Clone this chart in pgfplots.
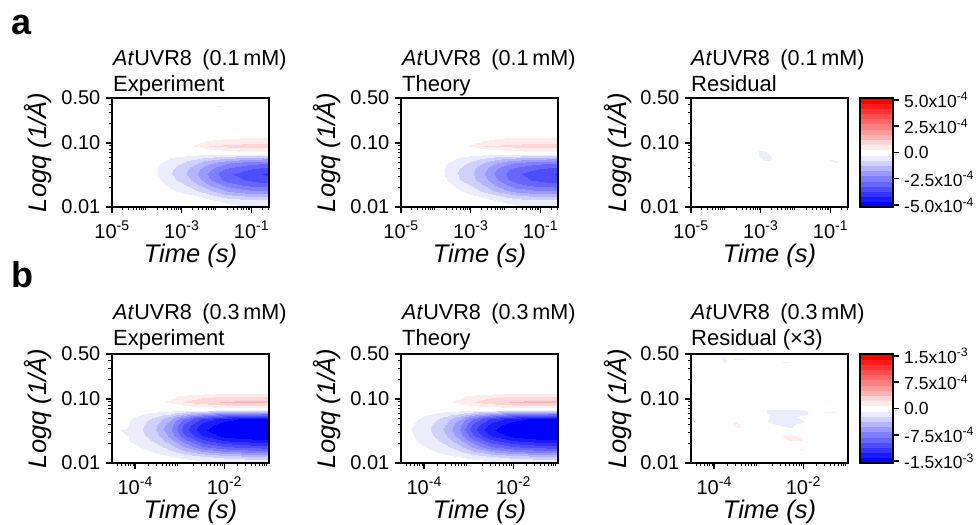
\documentclass[border=0pt]{standalone}
\usepackage{pgfplots}
\pgfplotsset{compat=1.18}
\usepackage{fontspec}
\setmainfont{Liberation Sans}
\newcommand\fs[1]{\fontsize{#1}{#1}\selectfont}
\pgfplotsset{
  colormap={bwr}{rgb255=(0,0,255) rgb255=(26,26,255) rgb255=(51,51,255) rgb255=(77,77,255) rgb255=(102,102,255) rgb255=(128,128,255) rgb255=(153,153,255) rgb255=(180,180,255) rgb255=(208,208,255) rgb255=(236,236,255) rgb255=(255,255,255) rgb255=(255,236,236) rgb255=(255,214,214) rgb255=(255,180,180) rgb255=(255,153,153) rgb255=(255,128,128) rgb255=(255,102,102) rgb255=(255,77,77) rgb255=(255,51,51) rgb255=(255,26,26) rgb255=(255,0,0)},
  hm/.style={surf,shader=interp,mesh/cols=#1,point meta=\thisrowno{2},forget plot},
  panel/.style={
    scale only axis,width=157pt,height=109pt,anchor=south west,
    ymin=0.01,ymax=0.5,
    colormap name=bwr,colormap access=piecewise constant,
    axis on top,axis line style={line width=1.8pt},
    tick align=outside,xtick pos=bottom,ytick pos=left,
    major tick length=6pt,minor tick length=3.5pt,
    tick style={black,line width=1.4pt},
    minor tick style={line width=1pt},
    ytick={0.01,0.1,0.5},yticklabels={0.01,0.10,0.50},
    minor ytick={0.02,0.03,0.04,0.05,0.06,0.07,0.08,0.09,0.2,0.3,0.4},
    minor xtick={2e-5,3e-5,4e-5,5e-5,6e-5,7e-5,8e-5,9e-5,2e-4,3e-4,4e-4,5e-4,6e-4,7e-4,8e-4,9e-4,2e-3,3e-3,4e-3,5e-3,6e-3,7e-3,8e-3,9e-3,2e-2,3e-2,4e-2,5e-2,6e-2,7e-2,8e-2,9e-2,0.2,0.3},
    tick label style={font=\fs{20}},
    yticklabel style={inner sep=0pt,xshift=-5.5pt},
    xticklabel style={inner sep=0pt,yshift=-8pt},
    xlabel={\itshape Time (s)},
    ylabel={\itshape Logq (1/Å)},
    every axis x label/.style={at={(axis description cs:0.5,0)},anchor=base,inner sep=0pt,yshift=-55.5pt,font=\fs{25.5}},
    every axis y label/.style={at={(axis description cs:0,0.5)},rotate=90,anchor=base,inner sep=0pt,yshift=65pt,font=\fs{25.5}},
  },
  pa/.style={panel,xmin=1e-5,xmax=0.316,xtick={1e-5,1e-3,1e-1},xticklabels={10\textsuperscript{-5},10\textsuperscript{-3},10\textsuperscript{-1}},point meta min=-5,point meta max=5},
  pb/.style={panel,xmin=3.02e-5,xmax=0.1,xtick={1e-4,1e-2},xticklabels={10\textsuperscript{-4},10\textsuperscript{-2}},point meta min=-15,point meta max=15},
  cbar/.style={
    scale only axis,width=33pt,height=109pt,anchor=south west,
    xmin=0,xmax=1,xtick=\empty,
    colormap name=bwr,colormap access=piecewise constant,
    axis on top,axis line style={line width=1.8pt},
    tick align=outside,ytick pos=right,yticklabel pos=right,
    major tick length=6pt,tick style={black,line width=1.4pt},
    yticklabel style={font=\fs{17.5},anchor=west,inner sep=0pt,xshift=5pt},
  },
}
\newcommand\ttl[4]{%
  \node[anchor=base west,inner sep=0pt,font=\fs{21.6}] at (#1pt,#2pt) {\textit{At}UVR8\hspace{10.5pt}(#3\,mM)};
  \node[anchor=base west,inner sep=0pt,font=\fs{22}] at (#1pt,#2pt-26pt) {#4};}
\begin{document}
\begin{tikzpicture}[x=1pt,y=1pt]
\path[use as bounding box] (0pt,0pt) rectangle (978pt,525pt);
\node[anchor=base west,inner sep=0pt,font=\fs{36}\bfseries] at (11pt,490pt) {a};
\node[anchor=base west,inner sep=0pt,font=\fs{36}\bfseries] at (11pt,237pt) {b};
% ---------- a, experiment
\begin{axis}[xmode=log,ymode=log,pa,at={(112pt,318pt)}]
\addplot[hm=10] table {
1.58e-4 .01 0
2.5e-4 .01 0
5e-4 .01 0
1e-3 .01 0
2.5e-3 .01 0
6.3e-3 .01 0
.02 .01 -.1
.063 .01 -.2
.158 .01 -.2
.32 .01 -.2
1.58e-4 .0122 0
2.5e-4 .0122 0
5e-4 .0122 0
1e-3 .0122 0
2.5e-3 .0122 0
6.3e-3 .0122 -.1
.02 .0122 -.35
.063 .0122 -.5
.158 .0122 -.55
.32 .0122 -.55
1.58e-4 .0148 0
2.5e-4 .0148 0
5e-4 .0148 0
1e-3 .0148 -.05
2.5e-3 .0148 -.2
6.3e-3 .0148 -.55
.02 .0148 -1
.063 .0148 -1.2
.158 .0148 -1.3
.32 .0148 -1.3
1.58e-4 .018 0
2.5e-4 .018 0
5e-4 .018 -.15
1e-3 .018 -.35
2.5e-3 .018 -.65
6.3e-3 .018 -1.1
.02 .018 -1.7
.063 .018 -2
.158 .018 -2.1
.32 .018 -2.1
1.58e-4 .0219 0
2.5e-4 .0219 -.1
5e-4 .0219 -.4
1e-3 .0219 -.6
2.5e-3 .0219 -1.1
6.3e-3 .0219 -1.7
.02 .0219 -2.3
.063 .0219 -2.7
.158 .0219 -2.8
.32 .0219 -2.9
1.58e-4 .0266 0
2.5e-4 .0266 -.25
5e-4 .0266 -.6
1e-3 .0266 -.85
2.5e-3 .0266 -1.4
6.3e-3 .0266 -2.1
.02 .0266 -2.8
.063 .0266 -3.1
.158 .0266 -3.3
.32 .0266 -3.4
1.58e-4 .0323 -.1
2.5e-4 .0323 -.4
5e-4 .0323 -.7
1e-3 .0323 -1
2.5e-3 .0323 -1.6
6.3e-3 .0323 -2.3
.02 .0323 -3
.063 .0323 -3.3
.158 .0323 -3.5
.32 .0323 -3.7
1.58e-4 .0393 -.1
2.5e-4 .0393 -.4
5e-4 .0393 -.65
1e-3 .0393 -.95
2.5e-3 .0393 -1.5
6.3e-3 .0393 -2.1
.02 .0393 -2.7
.063 .0393 -3
.158 .0393 -3.2
.32 .0393 -3.3
1.58e-4 .0478 0
2.5e-4 .0478 -.25
5e-4 .0478 -.5
1e-3 .0478 -.7
2.5e-3 .0478 -1.1
6.3e-3 .0478 -1.6
.02 .0478 -2.1
.063 .0478 -2.4
.158 .0478 -2.5
.32 .0478 -2.6
1.58e-4 .0581 0
2.5e-4 .0581 0
5e-4 .0581 -.25
1e-3 .0581 -.4
2.5e-3 .0581 -.6
6.3e-3 .0581 -.85
.02 .0581 -1.1
.063 .0581 -1.3
.158 .0581 -1.4
.32 .0581 -1.5
1.58e-4 .0681 0
2.5e-4 .0681 0
5e-4 .0681 0
1e-3 .0681 0
2.5e-3 .0681 -.1
6.3e-3 .0681 -.1
.02 .0681 -.15
.063 .0681 -.15
.158 .0681 -.15
.32 .0681 -.15
1.58e-4 .0765 0
2.5e-4 .0765 0
5e-4 .0765 0
1e-3 .0765 0
2.5e-3 .0765 0
6.3e-3 .0765 .1
.02 .0765 .3
.063 .0765 .45
.158 .0765 .5
.32 .0765 .5
1.58e-4 .0894 0
2.5e-4 .0894 0
5e-4 .0894 0
1e-3 .0894 0
2.5e-3 .0894 .3
6.3e-3 .0894 .75
.02 .0894 .85
.063 .0894 .9
.158 .0894 .9
.32 .0894 .9
1.58e-4 .1046 0
2.5e-4 .1046 0
5e-4 .1046 0
1e-3 .1046 0
2.5e-3 .1046 .1
6.3e-3 .1046 .35
.02 .1046 .5
.063 .1046 .55
.158 .1046 .55
.32 .1046 .55
1.58e-4 .1222 0
2.5e-4 .1222 0
5e-4 .1222 0
1e-3 .1222 0
2.5e-3 .1222 0
6.3e-3 .1222 .02
.02 .1222 .1
.063 .1222 .2
.158 .1222 .2
.32 .1222 .2
};
\addplot[hm=3] table {
.0072 .36 0
.0115 .36 0
.0182 .36 0
.0072 .38 0
.0115 .38 -.4
.0182 .38 0
.0072 .40 0
.0115 .40 0
.0182 .40 0
};
\end{axis}
% ---------- a, theory
\begin{axis}[xmode=log,ymode=log,pa,at={(401pt,318pt)}]
\addplot[hm=10] table {
1.58e-4 .01 0
2.5e-4 .01 0
5e-4 .01 0
1e-3 .01 0
2.5e-3 .01 0
6.3e-3 .01 -.05
.02 .01 -.15
.063 .01 -.2
.158 .01 -.2
.32 .01 -.2
1.58e-4 .0122 0
2.5e-4 .0122 0
5e-4 .0122 0
1e-3 .0122 0
2.5e-3 .0122 -.1
6.3e-3 .0122 -.25
.02 .0122 -.45
.063 .0122 -.55
.158 .0122 -.55
.32 .0122 -.55
1.58e-4 .0148 0
2.5e-4 .0148 0
5e-4 .0148 0
1e-3 .0148 -.15
2.5e-3 .0148 -.35
6.3e-3 .0148 -.7
.02 .0148 -1.05
.063 .0148 -1.25
.158 .0148 -1.3
.32 .0148 -1.3
1.58e-4 .018 0
2.5e-4 .018 0
5e-4 .018 -.2
1e-3 .018 -.45
2.5e-3 .018 -.85
6.3e-3 .018 -1.35
.02 .018 -1.85
.063 .018 -2.05
.158 .018 -2.1
.32 .018 -2.1
1.58e-4 .0219 0
2.5e-4 .0219 -.15
5e-4 .0219 -.5
1e-3 .0219 -.75
2.5e-3 .0219 -1.25
6.3e-3 .0219 -1.85
.02 .0219 -2.45
.063 .0219 -2.75
.158 .0219 -2.85
.32 .0219 -2.9
1.58e-4 .0266 -.1
2.5e-4 .0266 -.35
5e-4 .0266 -.7
1e-3 .0266 -1
2.5e-3 .0266 -1.55
6.3e-3 .0266 -2.2
.02 .0266 -2.85
.063 .0266 -3.15
.158 .0266 -3.3
.32 .0266 -3.4
1.58e-4 .0323 -.2
2.5e-4 .0323 -.45
5e-4 .0323 -.8
1e-3 .0323 -1.1
2.5e-3 .0323 -1.7
6.3e-3 .0323 -2.4
.02 .0323 -3
.063 .0323 -3.3
.158 .0323 -3.5
.32 .0323 -3.6
1.58e-4 .0393 -.2
2.5e-4 .0393 -.45
5e-4 .0393 -.75
1e-3 .0393 -1.05
2.5e-3 .0393 -1.6
6.3e-3 .0393 -2.25
.02 .0393 -2.8
.063 .0393 -3.05
.158 .0393 -3.2
.32 .0393 -3.3
1.58e-4 .0478 -.1
2.5e-4 .0478 -.3
5e-4 .0478 -.55
1e-3 .0478 -.8
2.5e-3 .0478 -1.25
6.3e-3 .0478 -1.75
.02 .0478 -2.2
.063 .0478 -2.45
.158 .0478 -2.55
.32 .0478 -2.6
1.58e-4 .0581 0
2.5e-4 .0581 -.05
5e-4 .0581 -.3
1e-3 .0581 -.45
2.5e-3 .0581 -.7
6.3e-3 .0581 -.95
.02 .0581 -1.2
.063 .0581 -1.35
.158 .0581 -1.45
.32 .0581 -1.5
1.58e-4 .0681 0
2.5e-4 .0681 0
5e-4 .0681 0
1e-3 .0681 -.05
2.5e-3 .0681 -.1
6.3e-3 .0681 -.1
.02 .0681 -.15
.063 .0681 -.15
.158 .0681 -.15
.32 .0681 -.15
1.58e-4 .0765 0
2.5e-4 .0765 0
5e-4 .0765 0
1e-3 .0765 0
2.5e-3 .0765 .05
6.3e-3 .0765 .2
.02 .0765 .35
.063 .0765 .45
.158 .0765 .5
.32 .0765 .5
1.58e-4 .0894 0
2.5e-4 .0894 0
5e-4 .0894 .1
1e-3 .0894 .3
2.5e-3 .0894 .75
6.3e-3 .0894 .8
.02 .0894 .85
.063 .0894 .9
.158 .0894 .9
.32 .0894 .9
1.58e-4 .1046 0
2.5e-4 .1046 0
5e-4 .1046 0
1e-3 .1046 .1
2.5e-3 .1046 .3
6.3e-3 .1046 .45
.02 .1046 .55
.063 .1046 .6
.158 .1046 .6
.32 .1046 .6
1.58e-4 .1222 0
2.5e-4 .1222 0
5e-4 .1222 0
1e-3 .1222 0
2.5e-3 .1222 .05
6.3e-3 .1222 .15
.02 .1222 .2
.063 .1222 .2
.158 .1222 .2
.32 .1222 .2
};
\end{axis}
% ---------- a, residual
\begin{axis}[xmode=log,ymode=log,pa,at={(691pt,318pt)}]
\addplot[hm=3] table {
6.8e-4 .0478 0
1.2e-3 .0478 0
2.5e-3 .0478 0
6.8e-4 .0628 0
1.2e-3 .0628 -.65
2.5e-3 .0628 0
6.8e-4 .0859 0
1.2e-3 .0859 0
2.5e-3 .0859 0
};
\addplot[hm=3] table {
.063 .0478 0
.115 .0478 0
.209 .0478 0
.063 .052 0
.115 .052 .5
.209 .052 0
.063 .0559 0
.115 .0559 0
.209 .0559 0
};
\end{axis}
\begin{axis}[cbar,at={(860pt,318pt)},ymin=-5.18,ymax=5.18,point meta min=-5,point meta max=5,
  ytick={-5,-2.5,0,2.5,5},
  yticklabels={-5.0x10\textsuperscript{-4},-2.5x10\textsuperscript{-4},0.0,2.5x10\textsuperscript{-4},5.0x10\textsuperscript{-4}}]
\addplot[hm=2] table {
0 -5.18 -5.18
1 -5.18 -5.18
0 5.18 5.18
1 5.18 5.18
};
\end{axis}
% ---------- b, experiment
\begin{axis}[xmode=log,ymode=log,pb,at={(112pt,62pt)}]
\addplot[hm=10] table {
3.98e-5 .01 0
7.94e-5 .01 0
1.58e-4 .01 0
3.16e-4 .01 0
6.31e-4 .01 0
1.26e-3 .01 0
3.16e-3 .01 -.3
.01 .01 -.5
.0316 .01 -.6
.102 .01 -.6
3.98e-5 .0122 0
7.94e-5 .0122 0
1.58e-4 .0122 0
3.16e-4 .0122 -.3
6.31e-4 .0122 -.6
1.26e-3 .0122 -1
3.16e-3 .0122 -1.8
.01 .0122 -2.5
.0316 .0122 -3
.102 .0122 -3
3.98e-5 .0148 0
7.94e-5 .0148 0
1.58e-4 .0148 -.4
3.16e-4 .0148 -.9
6.31e-4 .0148 -1.7
1.26e-3 .0148 -3
3.16e-3 .0148 -4.6
.01 .0148 -6
.0316 .0148 -6.6
.102 .0148 -7
3.98e-5 .018 0
7.94e-5 .018 -.3
1.58e-4 .018 -.9
3.16e-4 .018 -1.6
6.31e-4 .018 -3
1.26e-3 .018 -5
3.16e-3 .018 -7.5
.01 .018 -9
.0316 .018 -9.7
.102 .018 -10
3.98e-5 .0219 0
7.94e-5 .0219 -.8
1.58e-4 .0219 -1.5
3.16e-4 .0219 -2.5
6.31e-4 .0219 -4.4
1.26e-3 .0219 -7
3.16e-3 .0219 -10
.01 .0219 -12
.0316 .0219 -12.6
.102 .0219 -13
3.98e-5 .0266 0
7.94e-5 .0266 -.9
1.58e-4 .0266 -2
3.16e-4 .0266 -3.3
6.31e-4 .0266 -5.6
1.26e-3 .0266 -8.8
3.16e-3 .0266 -12
.01 .0266 -14
.0316 .0266 -14.8
.102 .0266 -15.2
3.98e-5 .0323 -.6
7.94e-5 .0323 -1
1.58e-4 .0323 -2.3
3.16e-4 .0323 -3.7
6.31e-4 .0323 -6.3
1.26e-3 .0323 -10
3.16e-3 .0323 -13.2
.01 .0323 -15
.0316 .0323 -15.8
.102 .0323 -16.2
3.98e-5 .0393 0
7.94e-5 .0393 -.9
1.58e-4 .0393 -2.2
3.16e-4 .0393 -3.6
6.31e-4 .0393 -6
1.26e-3 .0393 -9.6
3.16e-3 .0393 -12.6
.01 .0393 -14.5
.0316 .0393 -15.2
.102 .0393 -15.5
3.98e-5 .0478 0
7.94e-5 .0478 -.7
1.58e-4 .0478 -1.6
3.16e-4 .0478 -2.8
6.31e-4 .0478 -4.8
1.26e-3 .0478 -7.8
3.16e-3 .0478 -11
.01 .0478 -13
.0316 .0478 -14
.102 .0478 -14.2
3.98e-5 .0581 0
7.94e-5 .0581 -.1
1.58e-4 .0581 -.7
3.16e-4 .0581 -1.3
6.31e-4 .0581 -2.2
1.26e-3 .0581 -3.8
3.16e-3 .0581 -5.5
.01 .0581 -7
.0316 .0581 -7.6
.102 .0581 -8
3.98e-5 .0681 0
7.94e-5 .0681 0
1.58e-4 .0681 0
3.16e-4 .0681 -.1
6.31e-4 .0681 -.2
1.26e-3 .0681 -.4
3.16e-3 .0681 -.6
.01 .0681 -.8
.0316 .0681 -.9
.102 .0681 -1
3.98e-5 .0765 0
7.94e-5 .0765 0
1.58e-4 .0765 0
3.16e-4 .0765 0
6.31e-4 .0765 .2
1.26e-3 .0765 .5
3.16e-3 .0765 1
.01 .0765 1.6
.0316 .0765 1.9
.102 .0765 2
3.98e-5 .0894 0
7.94e-5 .0894 0
1.58e-4 .0894 0
3.16e-4 .0894 .3
6.31e-4 .0894 1
1.26e-3 .0894 2.3
3.16e-3 .0894 3
.01 .0894 3.7
.0316 .0894 3.9
.102 .0894 4
3.98e-5 .1046 0
7.94e-5 .1046 0
1.58e-4 .1046 0
3.16e-4 .1046 .1
6.31e-4 .1046 .5
1.26e-3 .1046 1.4
3.16e-3 .1046 2.2
.01 .1046 2.8
.0316 .1046 3
.102 .1046 3
3.98e-5 .1222 0
7.94e-5 .1222 0
1.58e-4 .1222 0
3.16e-4 .1222 0
6.31e-4 .1222 0
1.26e-3 .1222 .1
3.16e-3 .1222 .3
.01 .1222 .5
.0316 .1222 .6
.102 .1222 .6
};
\end{axis}
% ---------- b, theory
\begin{axis}[xmode=log,ymode=log,pb,at={(401pt,62pt)}]
\addplot[hm=10] table {
3.98e-5 .01 0
7.94e-5 .01 0
1.58e-4 .01 0
3.16e-4 .01 0
6.31e-4 .01 0
1.26e-3 .01 -.1
3.16e-3 .01 -.3
.01 .01 -.5
.0316 .01 -.6
.102 .01 -.6
3.98e-5 .0122 0
7.94e-5 .0122 0
1.58e-4 .0122 -.1
3.16e-4 .0122 -.4
6.31e-4 .0122 -.7
1.26e-3 .0122 -1.1
3.16e-3 .0122 -1.9
.01 .0122 -2.6
.0316 .0122 -3
.102 .0122 -3
3.98e-5 .0148 0
7.94e-5 .0148 -.2
1.58e-4 .0148 -.6
3.16e-4 .0148 -1
6.31e-4 .0148 -1.9
1.26e-3 .0148 -3.2
3.16e-3 .0148 -4.8
.01 .0148 -6.1
.0316 .0148 -6.7
.102 .0148 -7
3.98e-5 .018 0
7.94e-5 .018 -.5
1.58e-4 .018 -1.1
3.16e-4 .018 -1.8
6.31e-4 .018 -3.2
1.26e-3 .018 -5.2
3.16e-3 .018 -7.6
.01 .018 -9.1
.0316 .018 -9.8
.102 .018 -10
3.98e-5 .0219 -.1
7.94e-5 .0219 -.9
1.58e-4 .0219 -1.6
3.16e-4 .0219 -2.7
6.31e-4 .0219 -4.6
1.26e-3 .0219 -7.2
3.16e-3 .0219 -10.1
.01 .0219 -12
.0316 .0219 -12.7
.102 .0219 -13
3.98e-5 .0266 -.3
7.94e-5 .0266 -1.1
1.58e-4 .0266 -2.1
3.16e-4 .0266 -3.5
6.31e-4 .0266 -5.8
1.26e-3 .0266 -9
3.16e-3 .0266 -12.1
.01 .0266 -14
.0316 .0266 -14.9
.102 .0266 -15.2
3.98e-5 .0323 -.4
7.94e-5 .0323 -1.2
1.58e-4 .0323 -2.4
3.16e-4 .0323 -3.9
6.31e-4 .0323 -6.5
1.26e-3 .0323 -10.1
3.16e-3 .0323 -13.3
.01 .0323 -15.1
.0316 .0323 -15.9
.102 .0323 -16.2
3.98e-5 .0393 -.3
7.94e-5 .0393 -1.1
1.58e-4 .0393 -2.3
3.16e-4 .0393 -3.7
6.31e-4 .0393 -6.2
1.26e-3 .0393 -9.7
3.16e-3 .0393 -12.7
.01 .0393 -14.6
.0316 .0393 -15.3
.102 .0393 -15.5
3.98e-5 .0478 -.1
7.94e-5 .0478 -.8
1.58e-4 .0478 -1.7
3.16e-4 .0478 -2.9
6.31e-4 .0478 -5
1.26e-3 .0478 -7.9
3.16e-3 .0478 -11
.01 .0478 -13
.0316 .0478 -14
.102 .0478 -14.2
3.98e-5 .0581 0
7.94e-5 .0581 -.2
1.58e-4 .0581 -.8
3.16e-4 .0581 -1.4
6.31e-4 .0581 -2.3
1.26e-3 .0581 -3.9
3.16e-3 .0581 -5.6
.01 .0581 -7
.0316 .0581 -7.7
.102 .0581 -8
3.98e-5 .0681 0
7.94e-5 .0681 0
1.58e-4 .0681 0
3.16e-4 .0681 -.1
6.31e-4 .0681 -.2
1.26e-3 .0681 -.4
3.16e-3 .0681 -.6
.01 .0681 -.8
.0316 .0681 -.9
.102 .0681 -1
3.98e-5 .0765 0
7.94e-5 .0765 0
1.58e-4 .0765 0
3.16e-4 .0765 .05
6.31e-4 .0765 .25
1.26e-3 .0765 .6
3.16e-3 .0765 1.1
.01 .0765 1.7
.0316 .0765 1.9
.102 .0765 2
3.98e-5 .0894 0
7.94e-5 .0894 0
1.58e-4 .0894 .1
3.16e-4 .0894 .45
6.31e-4 .0894 1.1
1.26e-3 .0894 2.2
3.16e-3 .0894 3
.01 .0894 3.7
.0316 .0894 3.9
.102 .0894 4
3.98e-5 .1046 0
7.94e-5 .1046 0
1.58e-4 .1046 0
3.16e-4 .1046 .15
6.31e-4 .1046 .6
1.26e-3 .1046 1.4
3.16e-3 .1046 2.2
.01 .1046 2.8
.0316 .1046 3
.102 .1046 3
3.98e-5 .1222 0
7.94e-5 .1222 0
1.58e-4 .1222 0
3.16e-4 .1222 0
6.31e-4 .1222 .05
1.26e-3 .1222 .15
3.16e-3 .1222 .3
.01 .1222 .5
.0316 .1222 .6
.102 .1222 .6
};
\end{axis}
% ---------- b, residual
\begin{axis}[xmode=log,ymode=log,pb,at={(691pt,62pt)}]
\addplot[hm=5] table {
1e-3 .0364 0
2e-3 .0364 0
5e-3 .0364 -.9
.01 .0364 0
.0158 .0364 0
1e-3 .0443 0
2e-3 .0443 -1
5e-3 .0443 -1.2
.01 .0443 -.8
.0158 .0443 0
1e-3 .0518 0
2e-3 .0518 -.9
5e-3 .0518 -1
.01 .0518 -.5
.0158 .0518 0
1e-3 .063 0
2e-3 .063 -1.2
5e-3 .063 -1.4
.01 .063 -1.2
.0158 .063 -.2
1e-3 .0735 0
2e-3 .0735 0
5e-3 .0735 0
.01 .0735 0
.0158 .0735 0
};
\addplot[hm=3] table {
2e-3 .0195 0
5.6e-3 .0195 0
.0158 .0195 0
2e-3 .0246 0
5.6e-3 .0246 1.4
.0158 .0246 0
2e-3 .0311 0
5.6e-3 .0311 0
.0158 .0311 0
};
\addplot[hm=3] table {
2.09e-4 .0311 0
3.16e-4 .0311 0
4.8e-4 .0311 0
2.09e-4 .0393 0
3.16e-4 .0393 1.4
4.8e-4 .0393 0
2.09e-4 .0495 0
3.16e-4 .0495 0
4.8e-4 .0495 0
};
\addplot[hm=3] table {
.0219 .0581 0
.0398 .0581 0
.0724 .0581 0
.0219 .063 0
.0398 .063 1.4
.0724 .063 0
.0219 .0681 0
.0398 .0681 0
.0724 .0681 0
};
\addplot[hm=3] table {
6.6e-3 .0154 0
8.9e-3 .0154 0
.012 .0154 0
6.6e-3 .0165 0
8.9e-3 .0165 1.4
.012 .0165 0
6.6e-3 .018 0
8.9e-3 .018 0
.012 .018 0
};
\addplot[hm=3] table {
1.26e-4 .3126 0
1.62e-4 .3126 0
2.09e-4 .3126 0
1.26e-4 .411 0
1.62e-4 .411 -1.4
2.09e-4 .411 0
1.26e-4 .4977 0
1.62e-4 .4977 0
2.09e-4 .4977 0
};
\addplot[hm=3] table {
2e-4 .403 0
3.55e-4 .403 0
6.3e-4 .403 0
2e-4 .4226 0
3.55e-4 .4226 1.4
6.3e-4 .4226 0
2e-4 .4446 0
3.55e-4 .4446 0
6.3e-4 .4446 0
};
\addplot[hm=3] table {
2.5e-3 .3656 0
4e-3 .3656 0
6.3e-3 .3656 0
2.5e-3 .38 0
4e-3 .38 1.4
6.3e-3 .38 0
2.5e-3 .395 0
4e-3 .395 0
6.3e-3 .395 0
};
\end{axis}
\begin{axis}[cbar,at={(860pt,62pt)},ymin=-15.54,ymax=15.54,point meta min=-15,point meta max=15,
  ytick={-15,-7.5,0,7.5,15},
  yticklabels={-1.5x10\textsuperscript{-3},-7.5x10\textsuperscript{-4},0.0,7.5x10\textsuperscript{-4},1.5x10\textsuperscript{-3}}]
\addplot[hm=2] table {
0 -15.54 -15.54
1 -15.54 -15.54
0 15.54 15.54
1 15.54 15.54
};
\end{axis}
\ttl{113}{459}{0.1}{Experiment}
\ttl{402}{459}{0.1}{Theory}
\ttl{691}{459}{0.1}{Residual}
\ttl{113}{205}{0.3}{Experiment}
\ttl{402}{205}{0.3}{Theory}
\ttl{691}{205}{0.3}{Residual (×3)}
\end{tikzpicture}
\end{document}
